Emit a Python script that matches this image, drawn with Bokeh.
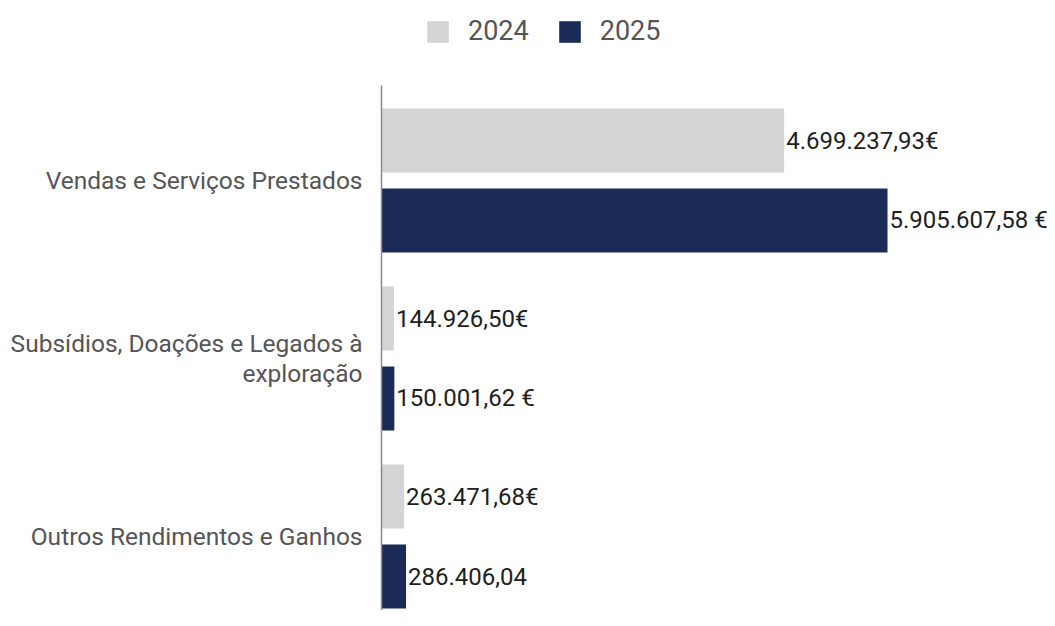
from bokeh.plotting import figure
from bokeh.models import ColumnDataSource, Range1d, Legend, LegendItem
from bokeh.core.properties import value
from bokeh.embed import file_html
from bokeh.resources import INLINE

# ---- data ----
categories = ["Vendas e Serviços Prestados",
              "Subsídios, Doações e Legados à\nexploração",
              "Outros Rendimentos e Ganhos"]
series_names = ["2024", "2025"]
values_2024 = [4699237.93, 144926.50, 263471.68]
values_2025 = [5905607.58, 150001.62, 286406.04]
labels_2024 = ["4.699.237,93€", "144.926,50€", "263.471,68€"]
labels_2025 = ["5.905.607,58 €", "150.001,62 €", "286.406,04"]

colors = ["#d5d4d5", "#1b2b57"]

W, H = 1047, 610
x_px0 = 381            # pixel of zero within figure
px_per_unit = 506 / 5905607.58
x_start = -x_px0 / px_per_unit
x_end = (W - x_px0) / px_per_unit

# y: category index, 178 px per category
cat_px = 178.0
first_c = 180.0
y_top = -first_c / cat_px
y_bot = (H - first_c) / cat_px

p = figure(width=W, height=H, output_backend="svg", toolbar_location=None,
           x_range=Range1d(x_start, x_end), y_range=Range1d(y_bot, y_top),
           min_border=0, min_border_left=0, min_border_right=0,
           min_border_top=0, min_border_bottom=0)
p.axis.visible = False
p.grid.visible = False
p.outline_line_color = None
p.background_fill_color = "white"
p.border_fill_color = "white"

idx = list(range(len(categories)))
off = 0.2247
bar_h = 0.36

src24 = ColumnDataSource(dict(y=[i - off for i in idx], v=values_2024, lab=labels_2024))
src25 = ColumnDataSource(dict(y=[i + off for i in idx], v=values_2025, lab=labels_2025))

r24 = p.hbar(y="y", left=0, right="v", height=bar_h, source=src24,
             fill_color=colors[0], line_color=None)
r25 = p.hbar(y="y", left=0, right="v", height=bar_h, source=src25,
             fill_color=colors[1], line_color=None)

# axis line
p.segment(x0=[0], y0=[y_top + 85 / cat_px], x1=[0], y1=[y_bot],
          line_color="#8a8a8a", line_width=1.5)

font = value("Roboto")
for src in (src24, src25):
    p.text(x="v", y="y", text="lab", source=src, x_offset=2,
           text_align="left", text_baseline="middle",
           text_font=font, text_font_size="24px", text_color="#1e1e1e")

csrc = ColumnDataSource(dict(y=idx, t=categories, x=[0] * len(idx)))
p.text(x="x", y="y", text="t", source=csrc, x_offset=-19,
       text_align="right", text_baseline="middle", text_line_height=1.05,
       text_font=font, text_font_size="24.5px", text_color="#555555")

legend = Legend(items=[LegendItem(label=series_names[0], renderers=[r24]),
                       LegendItem(label=series_names[1], renderers=[r25])],
                orientation="horizontal", location=(424, 563),
                glyph_width=27, glyph_height=27, label_standoff=17,
                spacing=27, padding=0, margin=0,
                label_text_font="Roboto", label_text_font_size="27px",
                label_text_color="#555555", label_height=27,
                border_line_alpha=0, background_fill_alpha=0)
p.add_layout(legend)

open("out.html", "w").write(file_html(p, INLINE))
